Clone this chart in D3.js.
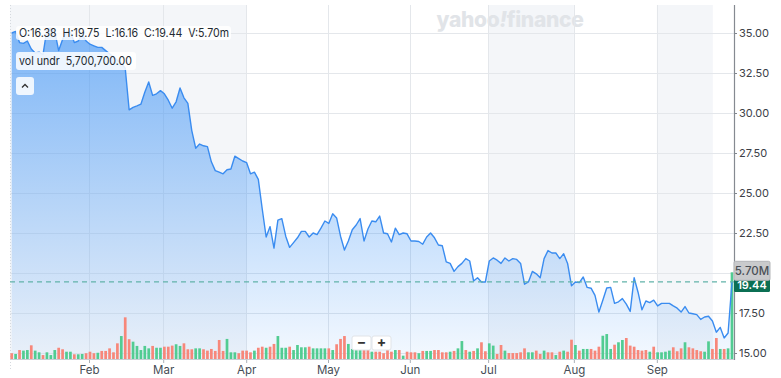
<!DOCTYPE html>
<html><head><meta charset="utf-8">
<script src="https://cdn.jsdelivr.net/npm/d3@7"></script>
<style>
html,body{margin:0;padding:0;background:#fff;}
svg{display:block;font-family:Inter,"Helvetica Neue",Arial,sans-serif;}
</style></head><body>
<svg id="c" width="781" height="378"></svg>
<script>
// ---- data ----
const closes = [
35.0,35.1,34.4,34.35,34.5,34.0,33.75,33.8,33.65,35.25,
35.3,35.1,33.9,34.6,35.1,35.05,34.4,34.5,34.9,34.5,
34.3,34.2,34.1,34.1,33.9,33.7,33.5,33.3,33.1,32.8,
30.2,30.35,30.44,30.55,31.3,31.94,31.1,31.2,31.4,31.2,
30.8,30.3,30.7,31.56,30.95,30.6,28.9,27.8,28.06,27.95,
27.9,26.95,26.4,26.3,26.2,26.45,26.5,27.3,27.15,27.0,
26.9,26.2,26.3,25.85,24.0,22.25,22.9,21.56,23.3,23.4,
22.3,21.6,21.9,22.2,22.6,22.6,22.25,22.5,22.4,22.8,
23.25,23.1,23.7,23.44,22.3,21.44,22.0,22.7,23.0,23.4,
22.0,22.75,23.25,23.2,23.56,22.5,22.45,21.94,22.8,22.4,
22.5,22.45,22.0,22.0,21.97,21.8,22.25,22.5,22.2,21.75,
21.7,20.7,20.6,20.1,20.4,20.6,20.9,20.75,19.5,19.7,
19.44,19.44,20.75,20.94,20.8,20.6,20.94,20.75,20.9,20.85,
20.6,19.3,19.44,20.1,19.95,19.7,20.9,21.4,21.25,21.25,
20.9,21.2,20.6,19.2,19.44,19.4,19.75,19.1,19.05,18.6,
17.56,18.3,19.06,19.1,18.1,18.2,18.4,18.05,17.6,19.7,
18.8,17.7,18.25,18.15,18.3,17.94,18.1,18.1,18.1,17.94,
17.8,17.56,17.9,17.5,17.45,17.4,17.1,17.25,17.3,17.0,
16.3,16.6,15.94,16.25,19.44];
const volumesM = [
0.38,0.33,0.59,0.55,0.59,0.90,0.55,0.44,0.26,0.44,
0.26,0.59,0.74,0.64,0.48,0.48,0.31,0.31,0.33,0.38,
0.48,0.38,0.41,0.53,0.53,0.70,0.44,1.03,1.51,2.74,
1.30,1.14,0.86,0.59,0.86,0.70,0.86,0.74,0.74,0.81,
0.81,0.88,0.97,0.86,1.03,0.64,0.64,0.70,0.70,0.64,
0.55,0.66,0.53,1.25,0.53,1.32,0.44,0.44,0.38,0.55,
0.55,0.44,0.55,0.74,0.81,0.74,0.81,0.99,1.51,0.74,
0.74,0.81,0.59,0.92,0.77,0.77,0.81,0.70,0.70,0.70,
0.70,0.70,0.59,0.97,1.32,1.51,0.99,0.66,0.66,0.66,
0.66,0.66,0.48,0.48,0.48,0.38,0.64,0.48,0.59,0.59,
0.22,0.48,0.44,0.44,0.38,0.53,0.53,0.53,0.59,0.59,
0.44,0.44,0.48,0.53,0.70,1.18,0.59,0.48,0.53,0.70,
1.10,0.51,1.03,0.88,0.33,0.92,0.55,0.39,0.39,0.39,
0.44,0.70,0.44,0.44,0.55,0.33,0.55,0.44,0.44,0.26,
0.48,0.55,0.48,1.27,0.92,0.55,0.66,0.66,0.66,0.55,
0.81,1.53,1.64,0.66,0.94,1.10,1.25,1.38,0.88,0.81,
0.59,0.55,0.59,0.48,0.81,0.44,0.44,0.48,0.55,0.77,
0.51,0.70,1.10,0.77,0.70,0.59,0.51,0.48,1.16,0.66,
1.38,0.66,0.66,0.70,5.70];
const volumeDir =
"rgrggrggrg"+"ggrrggrggr"+"rrgrrrrrgr"+"rgggggrggr"+"rrggrrrggr"+
"rrrrrgggrr"+"rrgrrgrrgg"+"grggggrggg"+"grgrrrgggg"+"rrgrrrrrgr"+
"grrrgrggrr"+"rrgrggrgrg"+"rrggrrgrrr"+"rrggrrgrrg"+"rgrrgrggrr"+
"rgggrggrrr"+"rrrgrggggr"+"rrgrrrrggr"+"rgrgg";
const monthLabels = ["Feb","Mar","Apr","May","Jun","Jul","Aug","Sep"];
const monthIndex  = [19.75,38.7,59.9,80.8,101.7,121.7,143.6,164.8];
const priceTicks  = [15,17.5,20,22.5,25,27.5,30,32.5,35];
const hiddenTickLabels = [20]; // covered by the last-value tags in the reference
const shadedSpans = [[-0.45,59.9],[121.7,143.6],[164.8,179.1]];
const ohlc = {O:"16.38",H:"19.75",L:"16.16",C:"19.44",V:"5.70m"};
const volLabel = "5,700,700.00";
const lastVolLabel = "5.70M";

// ---- layout ----
const L=10, R=734, T=5, B=359;
const svg = d3.select("#c");
const x = d3.scaleLinear().domain([0, closes.length-1]).range([11.7, 732]);
const y = d3.scaleLinear().domain([15,35]).range([353,33]);
const yv = d3.scaleLinear().domain([0,5.7]).range([B, B-86.7]);
const last = closes[closes.length-1];

const defs = svg.append("defs");
const g = defs.append("linearGradient").attr("id","ag").attr("gradientUnits","userSpaceOnUse")
  .attr("x1",0).attr("x2",0).attr("y1",y(35)).attr("y2",B);
g.append("stop").attr("offset","0").attr("stop-color","rgb(30,130,245)").attr("stop-opacity",0.55);
g.append("stop").attr("offset","1").attr("stop-color","rgb(30,130,245)").attr("stop-opacity",0.05);
defs.append("clipPath").attr("id","pc").append("rect").attr("x",L).attr("y",T).attr("width",R-L).attr("height",B-T);

// shaded month bands
svg.append("g").selectAll("rect").data(shadedSpans).join("rect")
  .attr("x",d=>Math.max(L,x(d[0]))).attr("y",T)
  .attr("width",d=>x(d[1])-Math.max(L,x(d[0]))).attr("height",B-T)
  .attr("fill","#f4f6f9");

// watermark
const wm = svg.append("text").attr("x",510).attr("y",27).attr("text-anchor","middle")
  .attr("font-size",21).attr("font-weight",800).attr("fill","#e1e4e8").attr("letter-spacing","-0.3");
wm.append("tspan").text("yahoo");
wm.append("tspan").attr("font-style","italic").text("!");
wm.append("tspan").text("finance");

// grid
svg.append("g").selectAll("line").data(priceTicks).join("line")
  .attr("x1",L).attr("x2",R).attr("y1",d=>Math.round(y(d))+0.5).attr("y2",d=>Math.round(y(d))+0.5)
  .attr("stroke","#e4e7eb").attr("stroke-width",1);
svg.append("g").selectAll("line").data(monthIndex).join("line")
  .attr("x1",d=>Math.round(x(d))+0.5).attr("x2",d=>Math.round(x(d))+0.5).attr("y1",T).attr("y2",B)
  .attr("stroke","#e4e7eb").attr("stroke-width",1);
svg.append("line").attr("x1",L+0.5).attr("x2",L+0.5).attr("y1",T).attr("y2",B+12)
  .attr("stroke","#d5d9de").attr("stroke-dasharray","1,2");

// area + line
const plot = svg.append("g").attr("clip-path","url(#pc)");
plot.append("path").datum(closes)
  .attr("d", d3.area().x((d,i)=>x(i)).y0(B).y1(d=>y(d)))
  .attr("fill","url(#ag)");

// volume bars
plot.append("g").selectAll("rect").data(volumesM).join("rect")
  .attr("x",(d,i)=>x(i)-1.35).attr("width",2.7)
  .attr("y",d=>yv(d)).attr("height",d=>B-yv(d))
  .attr("fill",(d,i)=>volumeDir[i]==="g"?"#52cc92":"#f7877a");

plot.append("path").datum(closes)
  .attr("d", d3.line().x((d,i)=>x(i)).y(d=>y(d)))
  .attr("fill","none").attr("stroke","#3a8cf0").attr("stroke-width",1.4).attr("stroke-linejoin","round");

// last price dashed line
svg.append("line").attr("x1",L).attr("x2",R).attr("y1",y(last)).attr("y2",y(last))
  .attr("stroke","#62b3a9").attr("stroke-width",1.2).attr("stroke-dasharray","5,4");

// axes
const ya = svg.append("g").attr("transform",`translate(${R},0)`)
  .call(d3.axisRight(y).tickValues(priceTicks)
    .tickFormat(d=>hiddenTickLabels.includes(d)?"":d3.format(".2f")(d)).tickSize(3).tickPadding(2));
ya.select(".domain").remove();
ya.selectAll(".tick line").attr("stroke","#7e848b");
ya.selectAll("text").attr("font-size",11).attr("fill","#3b4047").attr("font-family","Inter, Arial, sans-serif");
svg.append("line").attr("x1",R+0.5).attr("x2",R+0.5).attr("y1",T).attr("y2",B+1).attr("stroke","#858a91").attr("stroke-width",1.2);

const xa = svg.append("g").attr("transform",`translate(0,${B})`)
  .call(d3.axisBottom(x).tickValues(monthIndex).tickFormat((d,i)=>monthLabels[i]).tickSize(4).tickPadding(3));
xa.select(".domain").remove();
xa.selectAll(".tick line").attr("stroke","#aab0b7");
xa.selectAll("text").attr("font-size",11.5).attr("fill","#464d55").attr("font-family","Inter, Arial, sans-serif");
svg.append("line").attr("x1",L).attr("x2",R).attr("y1",B+0.5).attr("y2",B+0.5).attr("stroke","#c9ced4");

// right value labels
const py = y(last);
svg.append("rect").attr("x",R).attr("y",py-4).attr("width",36).attr("height",14).attr("rx",1.5).attr("fill","#0b6f53");
svg.append("text").attr("x",R+18).attr("y",py+7.5).attr("text-anchor","middle").attr("font-size",11)
  .attr("font-weight",600).attr("fill","#fff").text(d3.format(".2f")(last));
const vy = yv(volumesM[volumesM.length-1]);
svg.append("rect").attr("x",R).attr("y",vy-11).attr("width",36).attr("height",19).attr("rx",1.5)
  .attr("fill","#c9cacc").attr("stroke","#b3b5b8");
svg.append("text").attr("x",R+18).attr("y",vy+2.5).attr("text-anchor","middle").attr("font-size",11.5)
  .attr("font-weight",500).attr("fill","#4a4f56").text(lastVolLabel);

// info boxes
const info = `O:${ohlc.O}  H:${ohlc.H}  L:${ohlc.L}  C:${ohlc.C}  V:${ohlc.V}`;
svg.append("rect").attr("x",16).attr("y",26).attr("width",215).attr("height",14).attr("rx",3).attr("fill","rgba(255,255,255,0.85)");
svg.append("text").attr("x",19).attr("y",36.5).attr("font-size",11.5).attr("fill","#232a31")
  .attr("textLength",210).attr("lengthAdjust","spacingAndGlyphs")
  .style("white-space","pre").text(info);
svg.append("rect").attr("x",16).attr("y",52).attr("width",120).attr("height",18).attr("rx",3).attr("fill","rgba(255,255,255,0.85)");
svg.append("text").attr("x",19).attr("y",65).attr("font-size",11.5).attr("fill","#232a31")
  .attr("textLength",113).attr("lengthAdjust","spacingAndGlyphs")
  .style("white-space","pre").text("vol undr  " + volLabel);
svg.append("rect").attr("x",16).attr("y",77).attr("width",18).attr("height",18).attr("rx",3).attr("fill","rgba(255,255,255,0.85)");
svg.append("path").attr("d","M22,87.5 L25,84.5 L28,87.5").attr("fill","none").attr("stroke","#333").attr("stroke-width",1.3);

// zoom buttons
[["−",352],["+",372]].forEach(([s,bx])=>{
  svg.append("rect").attr("x",bx).attr("y",336).attr("width",19).attr("height",14).attr("rx",2)
    .attr("fill","#fff").attr("stroke","#e1e4e8");
  svg.append("text").attr("x",bx+9.5).attr("y",347).attr("text-anchor","middle").attr("font-size",14)
    .attr("font-weight",700).attr("fill","#333").text(s);
});
</script>
</body></html>
